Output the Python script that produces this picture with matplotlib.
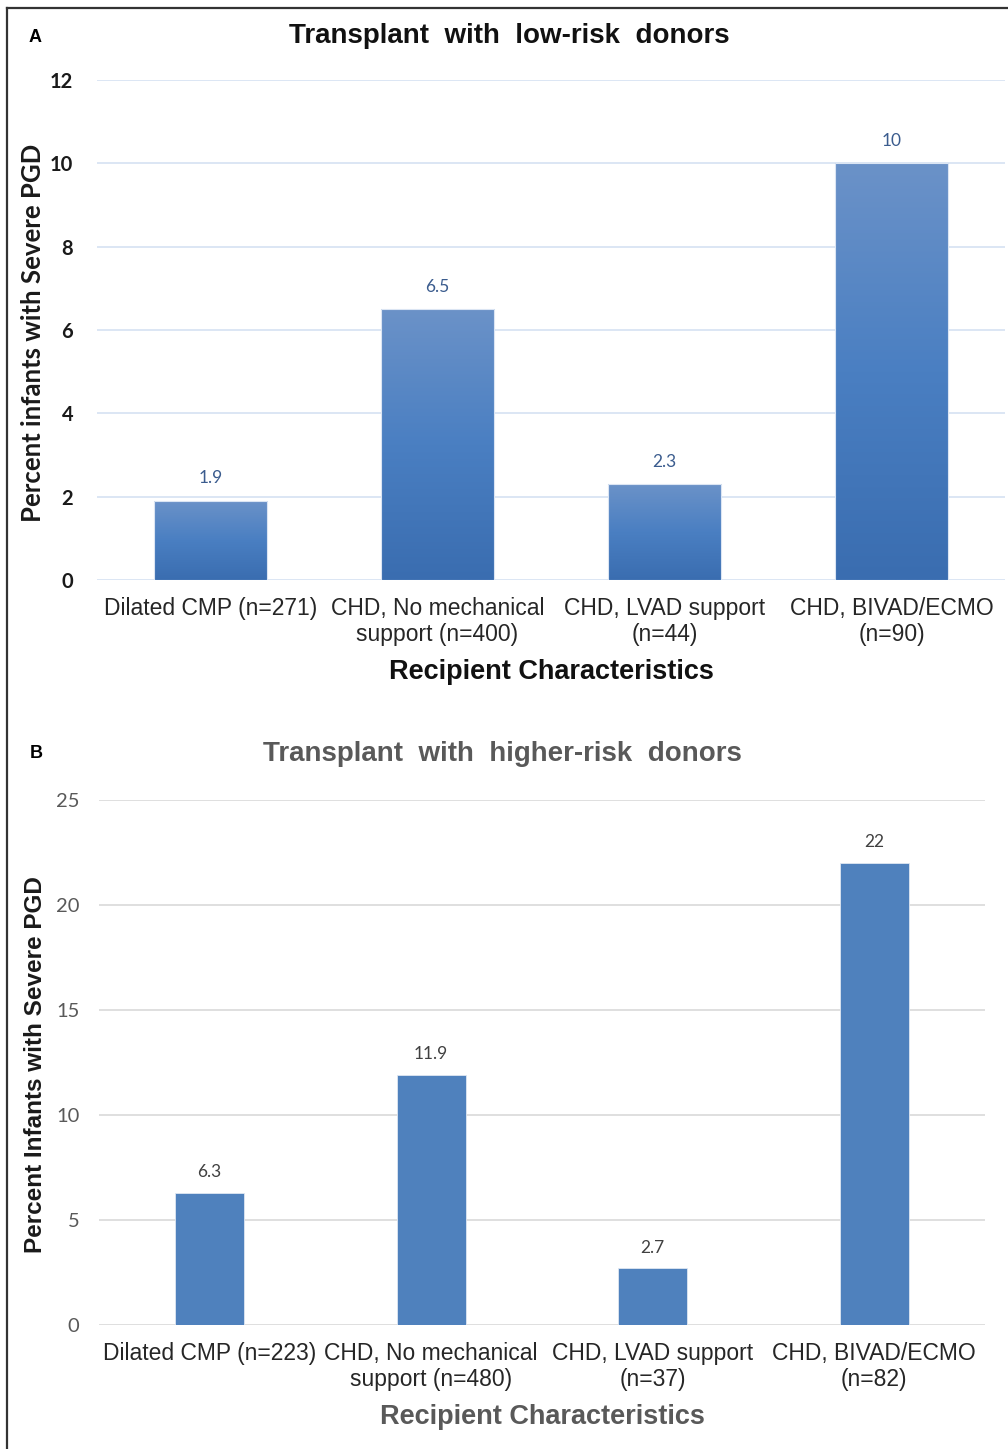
import numpy as np
import matplotlib.pyplot as plt
from matplotlib.lines import Line2D
from matplotlib.colors import LinearSegmentedColormap

# panel A: low-risk donors
cats_a = ["Dilated CMP (n=271)", "CHD, No mechanical\nsupport (n=400)",
          "CHD, LVAD support\n(n=44)", "CHD, BIVAD/ECMO\n(n=90)"]
vals_a = [1.9, 6.5, 2.3, 10]
labels_a = ["1.9", "6.5", "2.3", "10"]

# panel B: higher-risk donors
cats_b = ["Dilated CMP (n=223)", "CHD, No mechanical\nsupport (n=480)",
          "CHD, LVAD support\n(n=37)", "CHD, BIVAD/ECMO\n(n=82)"]
vals_b = [6.3, 11.9, 2.7, 22]
labels_b = ["6.3", "11.9", "2.7", "22"]

ARIAL = "Liberation Sans"
CALIBRI = "Lato"

fig = plt.figure(figsize=(10.08, 14.49), dpi=100)

# frame lines (top and left edges of the original border)
fig.add_artist(Line2D([0.007, 1.0], [0.9945, 0.9945], color="#333333", lw=1.6,
                      transform=fig.transFigure))
fig.add_artist(Line2D([0.007, 0.007], [0.0, 0.9945], color="#333333", lw=1.6,
                      transform=fig.transFigure))

# ---------------- panel A ----------------
ax = fig.add_axes([0.0962, 0.5997, 0.901, 0.3451])
x = np.arange(len(cats_a))
bars = ax.bar(x, vals_a, width=0.5, color="none", edgecolor="#dbe5f3", lw=0.8, zorder=3)
grad = np.linspace(0, 1, 256).reshape(-1, 1)
cmap = LinearSegmentedColormap.from_list("g", ["#3a6db0", "#4a7fc2", "#6b92c8"])
for b in bars:
    x0, w, h = b.get_x(), b.get_width(), b.get_height()
    im = ax.imshow(grad, extent=[x0, x0 + w, 0, h], origin="lower", aspect="auto",
                   cmap=cmap, zorder=2)
    im.set_clip_path(b)
for xi, v, t in zip(x, vals_a, labels_a):
    ax.text(xi, v + 0.35, t, ha="center", va="bottom", fontsize=12.5,
            family=CALIBRI, color="#3b5c8e")
ax.set_xlim(-0.5, 3.5)
ax.set_ylim(0, 12)
ax.set_yticks(range(0, 13, 2))
ax.yaxis.grid(True, color="#d6e2f2", lw=1.2)
ax.set_axisbelow(True)
for s in ax.spines.values():
    s.set_visible(False)
ax.tick_params(length=0)
ax.tick_params(axis="y", pad=17)
ax.tick_params(axis="x", pad=12)
ax.set_xticks(x)
ax.set_xticklabels(cats_a, fontsize=16.5, family=ARIAL, color="#262626", linespacing=1.2)
for t in ax.get_yticklabels():
    t.set_fontsize(14.5)
    t.set_family(CALIBRI)
    t.set_fontweight("bold")
    t.set_color("#1a1a1a")
ax.set_xlabel("Recipient Characteristics", fontsize=19.5, fontweight="bold",
              family=ARIAL, color="#111111", labelpad=9)
fig.text(0.505, 0.975, "Transplant  with  low-risk  donors", ha="center", va="center",
         fontsize=20, fontweight="bold", family=ARIAL, color="#111111")
fig.text(0.035, 0.974, "A", ha="center", va="center", fontsize=13,
         fontweight="bold", family=ARIAL)
fig.text(0.033, 0.770, "Percent infants with Severe PGD", rotation=90, ha="center",
         va="center", fontsize=18.5, fontweight="bold", family=CALIBRI, color="#1a1a1a")

# ---------------- panel B ----------------
ax2 = fig.add_axes([0.0982, 0.0856, 0.879, 0.3623])
x2 = np.arange(len(cats_b))
ax2.bar(x2, vals_b, width=0.31, color="#4f81bd", edgecolor="#dfe7f2", lw=0.6, zorder=3)
for xi, v, t in zip(x2, vals_b, labels_b):
    ax2.text(xi, v + 0.6, t, ha="center", va="bottom", fontsize=12.5,
             family=CALIBRI, color="#404040")
ax2.set_xlim(-0.5, 3.5)
ax2.set_ylim(0, 25)
ax2.set_yticks(range(0, 26, 5))
ax2.yaxis.grid(True, color="#d9d9d9", lw=1.2)
ax2.set_axisbelow(True)
for s in ax2.spines.values():
    s.set_visible(False)
ax2.tick_params(length=0)
ax2.tick_params(axis="y", pad=14)
ax2.tick_params(axis="x", pad=12)
ax2.set_xticks(x2)
ax2.set_xticklabels(cats_b, fontsize=16.5, family=ARIAL, color="#262626", linespacing=1.2)
for t in ax2.get_yticklabels():
    t.set_fontsize(14.5)
    t.set_family(CALIBRI)
    t.set_color("#595959")
ax2.set_xlabel("Recipient Characteristics", fontsize=19.5, fontweight="bold",
               family=ARIAL, color="#595959", labelpad=9)
fig.text(0.498, 0.4796, "Transplant  with  higher-risk  donors", ha="center", va="center",
         fontsize=20, fontweight="bold", family=ARIAL, color="#595959")
fig.text(0.036, 0.480, "B", ha="center", va="center", fontsize=13,
         fontweight="bold", family=ARIAL)
fig.text(0.0357, 0.265, "Percent Infants with Severe PGD", rotation=90, ha="center",
         va="center", fontsize=17.5, fontweight="bold", family=ARIAL, color="#1a1a1a")

fig.savefig("out.png", dpi=100)
